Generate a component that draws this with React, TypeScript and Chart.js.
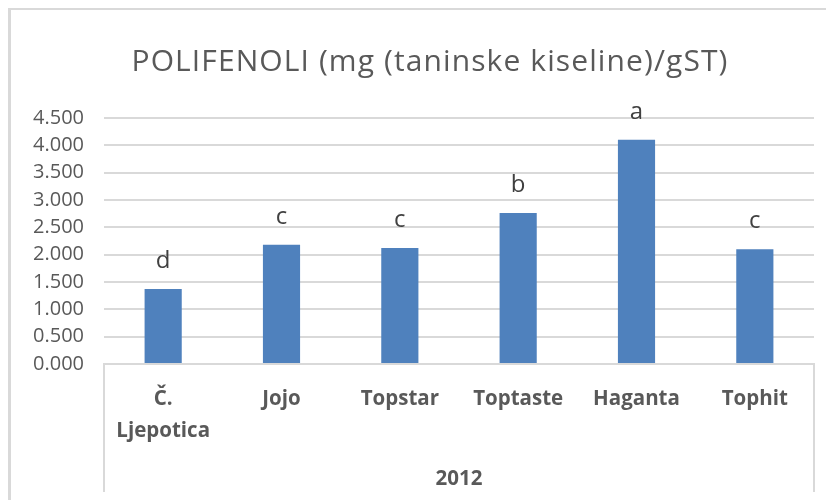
import { useEffect, useRef } from "react";
import { Chart, registerables } from "chart.js";

Chart.register(...registerables);

const chartTitle = "POLIFENOLI (mg (taninske kiseline)/gST)";
const categories: (string | string[])[] = [["Č.", "Ljepotica"], "Jojo", "Topstar", "Toptaste", "Haganta", "Tophit"];
const values = [1.37, 2.18, 2.12, 2.76, 4.1, 2.1];
const letters = ["d", "c", "c", "b", "a", "c"];
const groupLabel = "2012";
const yMin = 0;
const yMax = 4.5;
const yStep = 0.5;

const FONT = '"Open Sans", "DejaVu Sans", sans-serif';

const decorPlugin = {
  id: "decor",
  afterDraw(chart: any) {
    const ctx = chart.ctx as CanvasRenderingContext2D;
    ctx.save();
    // chart title
    ctx.font = `30px ${FONT}`;
    (ctx as any).letterSpacing = "1.1px";
    ctx.fillStyle = "#595959";
    ctx.textAlign = "center";
    ctx.textBaseline = "middle";
    ctx.fillText(chartTitle, chart.width / 2 + 17, 62);
    ctx.restore();
  },
  afterDatasetsDraw(chart: any) {
    const ctx = chart.ctx as CanvasRenderingContext2D;
    const meta = chart.getDatasetMeta(0);
    ctx.save();
    ctx.font = `24px ${FONT}`;
    ctx.fillStyle = "#404040";
    ctx.textAlign = "center";
    ctx.textBaseline = "middle";
    meta.data.forEach((bar: any, i: number) => {
      ctx.fillText(letters[i], bar.x, bar.y - 28);
    });
    const { left, right, bottom } = chart.chartArea;
    const end = chart.scales.x.bottom - 8;
    ctx.strokeStyle = "#d9d9d9";
    ctx.lineWidth = 2;
    ctx.beginPath();
    ctx.moveTo(left, bottom);
    ctx.lineTo(left, end);
    ctx.moveTo(right, bottom);
    ctx.lineTo(right, end);
    ctx.stroke();
    ctx.restore();
  },
};

export default function App() {
  const ref = useRef<HTMLCanvasElement | null>(null);
  useEffect(() => {
    if (!ref.current) return;
    const chart = new Chart(ref.current, {
      type: "bar",
      data: {
        labels: categories,
        datasets: [
          {
            data: values,
            backgroundColor: "#4F81BD",
            borderWidth: 0,
            categoryPercentage: 1,
            barPercentage: 0.314,
          },
        ],
      },
      options: {
        responsive: false,
        animation: false,
        layout: { padding: { top: 118, left: 20, right: 12, bottom: 0 } },
        plugins: {
          legend: { display: false },
          tooltip: { enabled: false },
          title: { display: false },
        },
        scales: {
          x: {
            afterFit(s: any) {
              s.height = 136;
            },
            grid: { display: false },
            border: { display: true, color: "#d9d9d9", width: 2 },
            ticks: {
              autoSkip: false,
              maxRotation: 0,
              minRotation: 0,
              padding: 11,
              color: "#595959",
              font: { family: FONT, size: 20.5, weight: "bold", lineHeight: 1.56 },
            },
            title: {
              display: true,
              text: groupLabel,
              color: "#595959",
              font: { family: FONT, size: 20.5, weight: "bold", lineHeight: 1.2 },
              padding: { top: 0, bottom: 9 },
            },
          },
          y: {
            min: yMin,
            max: yMax,
            afterFit(s: any) {
              s.width = 84;
            },
            grid: { color: "#d9d9d9", lineWidth: 2, drawTicks: false },
            border: { display: false },
            ticks: {
              stepSize: yStep,
              padding: 20,
              color: "#595959",
              font: { family: FONT, size: 20 },
              callback: (v: any) => Number(v).toFixed(3),
            },
          },
        },
      },
      plugins: [decorPlugin],
    });
    return () => chart.destroy();
  }, []);

  return (
    <div style={{ position: "fixed", left: 0, top: 0, width: 826, height: 500, background: "#fff", overflow: "hidden" }}>
      <div
        style={{
          position: "absolute",
          left: 8,
          top: 8,
          width: 830,
          height: 510,
          borderTop: "2px solid #d9d9d9",
          borderLeft: "3px solid #d9d9d9",
        }}
      />
      <canvas ref={ref} width={826} height={500} style={{ position: "absolute", left: 0, top: 0, display: "block" }} />
    </div>
  );
}
